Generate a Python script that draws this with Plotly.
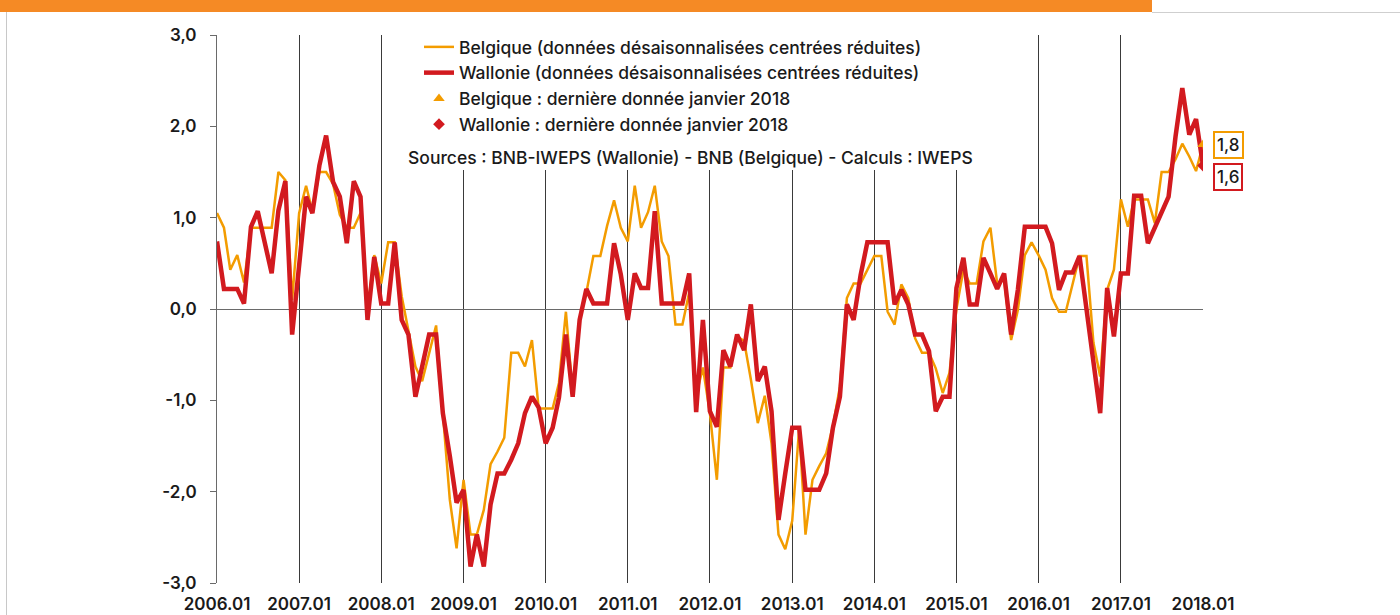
import pandas as pd
import plotly.graph_objects as go

# ---- data -------------------------------------------------------------
months = pd.date_range("2006-01-01", "2018-01-01", freq="MS")

belgique = [
    1.05, 0.89, 0.43, 0.59, 0.29, 0.89, 0.89, 0.89, 0.89, 1.50, 1.41, 0.10,
    1.05, 1.35, 1.07, 1.50, 1.50, 1.37, 1.03, 0.89, 0.89, 1.05, 0.00, 0.59,
    0.28, 0.73, 0.73, 0.14, -0.23, -0.63, -0.79, -0.48, -0.18, -1.14, -2.09, -2.62,
    -1.87, -2.47, -2.47, -2.20, -1.70, -1.56, -1.41, -0.48, -0.48, -0.63, -0.34, -1.09,
    -1.09, -1.09, -0.81, -0.03, -0.92, -0.10, 0.18, 0.58, 0.58, 0.91, 1.19, 0.89,
    0.74, 1.35, 0.89, 1.06, 1.35, 0.74, 0.58, -0.17, -0.17, 0.18, -0.95, -0.64,
    -1.14, -1.87, -0.64, -0.64, -0.30, -0.35, -0.77, -1.25, -0.95, -1.47, -2.47, -2.63,
    -2.32, -1.30, -2.47, -1.87, -1.72, -1.58, -1.28, -0.85, 0.12, 0.28, 0.28, 0.43,
    0.58, 0.58, -0.03, -0.17, 0.27, 0.12, -0.32, -0.48, -0.48, -0.65, -0.92, -0.70,
    0.00, 0.43, 0.28, 0.28, 0.74, 0.89, 0.28, 0.32, -0.34, -0.01, 0.59, 0.73,
    0.59, 0.43, 0.12, -0.03, -0.03, 0.28, 0.58, 0.58, -0.37, -0.74, 0.21, 0.43,
    1.20, 0.90, 1.20, 1.20, 1.20, 0.94, 1.50, 1.50, 1.64, 1.81, 1.67, 1.51,
    1.80,
]

wallonie = [
    0.74, 0.22, 0.22, 0.22, 0.06, 0.90, 1.07, 0.74, 0.39, 1.08, 1.40, -0.28,
    0.45, 1.23, 1.05, 1.57, 1.90, 1.39, 1.23, 0.72, 1.40, 1.23, -0.12, 0.57,
    0.06, 0.06, 0.73, -0.12, -0.28, -0.96, -0.63, -0.28, -0.28, -1.14, -1.61, -2.12,
    -1.98, -2.82, -2.47, -2.82, -2.14, -1.80, -1.80, -1.65, -1.47, -1.14, -0.96, -1.08,
    -1.47, -1.30, -0.97, -0.28, -0.96, -0.12, 0.22, 0.06, 0.06, 0.06, 0.72, 0.38,
    -0.12, 0.39, 0.23, 0.23, 1.07, 0.06, 0.06, 0.06, 0.06, 0.39, -1.13, -0.12,
    -1.12, -1.29, -0.45, -0.63, -0.28, -0.45, 0.05, -0.79, -0.63, -1.12, -2.31, -1.80,
    -1.30, -1.30, -1.98, -1.98, -1.98, -1.80, -1.30, -0.96, 0.05, -0.12, 0.37, 0.73,
    0.73, 0.73, 0.73, 0.05, 0.21, 0.05, -0.28, -0.28, -0.46, -1.12, -0.96, -0.96,
    0.23, 0.56, 0.05, 0.05, 0.56, 0.39, 0.22, 0.39, -0.28, 0.21, 0.90, 0.90,
    0.90, 0.90, 0.72, 0.21, 0.40, 0.40, 0.58, 0.00, -0.55, -1.14, 0.23, -0.30,
    0.39, 0.39, 1.24, 1.24, 0.72, 0.90, 1.07, 1.23, 1.89, 2.42, 1.91, 2.08,
    1.57,
]

last_date = "2018-01-01"
last_belgique = 1.80
last_wallonie = 1.57
label_belgique = "1,8"
label_wallonie = "1,6"

year_ticks = pd.date_range("2006-01-01", "2018-01-01", freq="12MS")
year_labels = [d.strftime("%Y.%m") for d in year_ticks]
y_ticks = [-3, -2, -1, 0, 1, 2, 3]
y_labels = ["-3,0", "-2,0", "-1,0", "0,0", "1,0", "2,0", "3,0"]

names = [
    "Belgique (données désaisonnalisées centrées réduites)",
    "Wallonie (données désaisonnalisées centrées réduites)",
    "Belgique : dernière donnée janvier 2018",
    "Wallonie : dernière donnée janvier 2018",
]
source_text = "Sources : BNB-IWEPS (Wallonie) - BNB (Belgique) - Calculs : IWEPS"

# ---- style ------------------------------------------------------------
ORANGE = "#F39C00"
RED = "#D21A1F"
FONT = "Inter"
TXT = "#1a1a1a"

# pixel geometry helpers (plot area 217..1203 x 35..583)
L, R, T, B = 217, 1203, 35, 583
W, H = R - L, B - T


def px(xp):
    return (xp - L) / W


def py(yp):
    return (B - yp) / H


fig = go.Figure()
fig.add_trace(go.Scatter(x=months, y=belgique, mode="lines", name=names[0],
                         line=dict(color=ORANGE, width=2.5), legendgroup="a"))
fig.add_trace(go.Scatter(x=months, y=wallonie, mode="lines", name=names[1],
                         line=dict(color=RED, width=4.5), legendgroup="b"))
fig.add_trace(go.Scatter(x=[last_date], y=[last_belgique], mode="markers", name=names[2],
                         marker=dict(color=ORANGE, symbol="triangle-up", size=10),
                         legendgroup="c"))
fig.add_trace(go.Scatter(x=[last_date], y=[last_wallonie], mode="markers", name=names[3],
                         marker=dict(color=RED, symbol="diamond", size=9),
                         legendgroup="d"))

shapes = [
    # white box behind legend (hides gridlines)
    dict(type="rect", xref="paper", yref="paper", x0=px(398), x1=px(992),
         y0=py(170), y1=py(35), fillcolor="white", line=dict(width=0), layer="above"),
    # top orange bar
    dict(type="rect", xref="paper", yref="paper", x0=px(-2), x1=px(1152),
         y0=py(12), y1=py(-2), fillcolor="#F58A25", line=dict(width=0)),
    # thin grey rule on the right of the bar
    dict(type="line", xref="paper", yref="paper", x0=px(1152), x1=px(1402),
         y0=py(12.5), y1=py(12.5), line=dict(color="#cfcfcf", width=1)),
    # left grey frame line
    dict(type="line", xref="paper", yref="paper", x0=px(6.5), x1=px(6.5),
         y0=py(12), y1=py(617), line=dict(color="#c8c8c8", width=1)),
]

annotations = [
    dict(text=source_text, xref="paper", yref="paper", x=px(690), y=py(157),
         xanchor="center", yanchor="middle", showarrow=False,
         font=dict(family=FONT, size=17.5, color=TXT, weight=500)),
    dict(text=label_belgique, xref="x", yref="y", x=last_date, y=last_belgique,
         xanchor="left", yanchor="middle", xshift=10, showarrow=False,
         bordercolor=ORANGE, borderwidth=2, borderpad=2, bgcolor="white",
         font=dict(family=FONT, size=17, color=TXT, weight=500)),
    dict(text=label_wallonie, xref="x", yref="y", x=last_date, y=last_wallonie,
         xanchor="left", yanchor="middle", xshift=10, yshift=-11, showarrow=False,
         bordercolor=RED, borderwidth=2, borderpad=2, bgcolor="white",
         font=dict(family=FONT, size=17, color=TXT, weight=500)),
]

fig.update_layout(
    width=1400, height=615,
    margin=dict(l=L, r=1400 - R, t=T, b=615 - B, pad=0, autoexpand=False),
    paper_bgcolor="white", plot_bgcolor="white",
    font=dict(family=FONT, size=15, color=TXT),
    showlegend=True,
    legend=dict(x=px(419), y=py(29), xanchor="left", yanchor="top",
                bgcolor="rgba(0,0,0,0)", tracegroupgap=0,
                font=dict(family=FONT, size=17.5, color=TXT, weight=500),
                itemwidth=30),
    shapes=shapes,
    annotations=annotations,
)

fig.update_xaxes(
    type="date", range=["2006-01-01", "2018-01-01"],
    tickvals=list(year_ticks), ticktext=year_labels,
    showgrid=True, gridcolor="#3a3a3a", gridwidth=1, automargin=False,
    showline=False, zeroline=False, ticks="", ticklabelstandoff=9,
    tickfont=dict(family=FONT, size=17, color=TXT, weight=600),
)
fig.update_yaxes(
    range=[-3, 3], tickvals=y_ticks, ticktext=y_labels, automargin=False,
    showgrid=False, zeroline=True, zerolinecolor="#6a6a6a", zerolinewidth=1,
    showline=True, linecolor="#6a6a6a", linewidth=1,
    ticks="outside", ticklen=6, tickcolor="#6a6a6a", ticklabelstandoff=10,
    tickfont=dict(family=FONT, size=17, color=TXT, weight=600),
)

fig.write_html("out.html", config={"displayModeBar": False},
               post_script="document.body.style.margin='0px';document.body.style.overflow='hidden';")
